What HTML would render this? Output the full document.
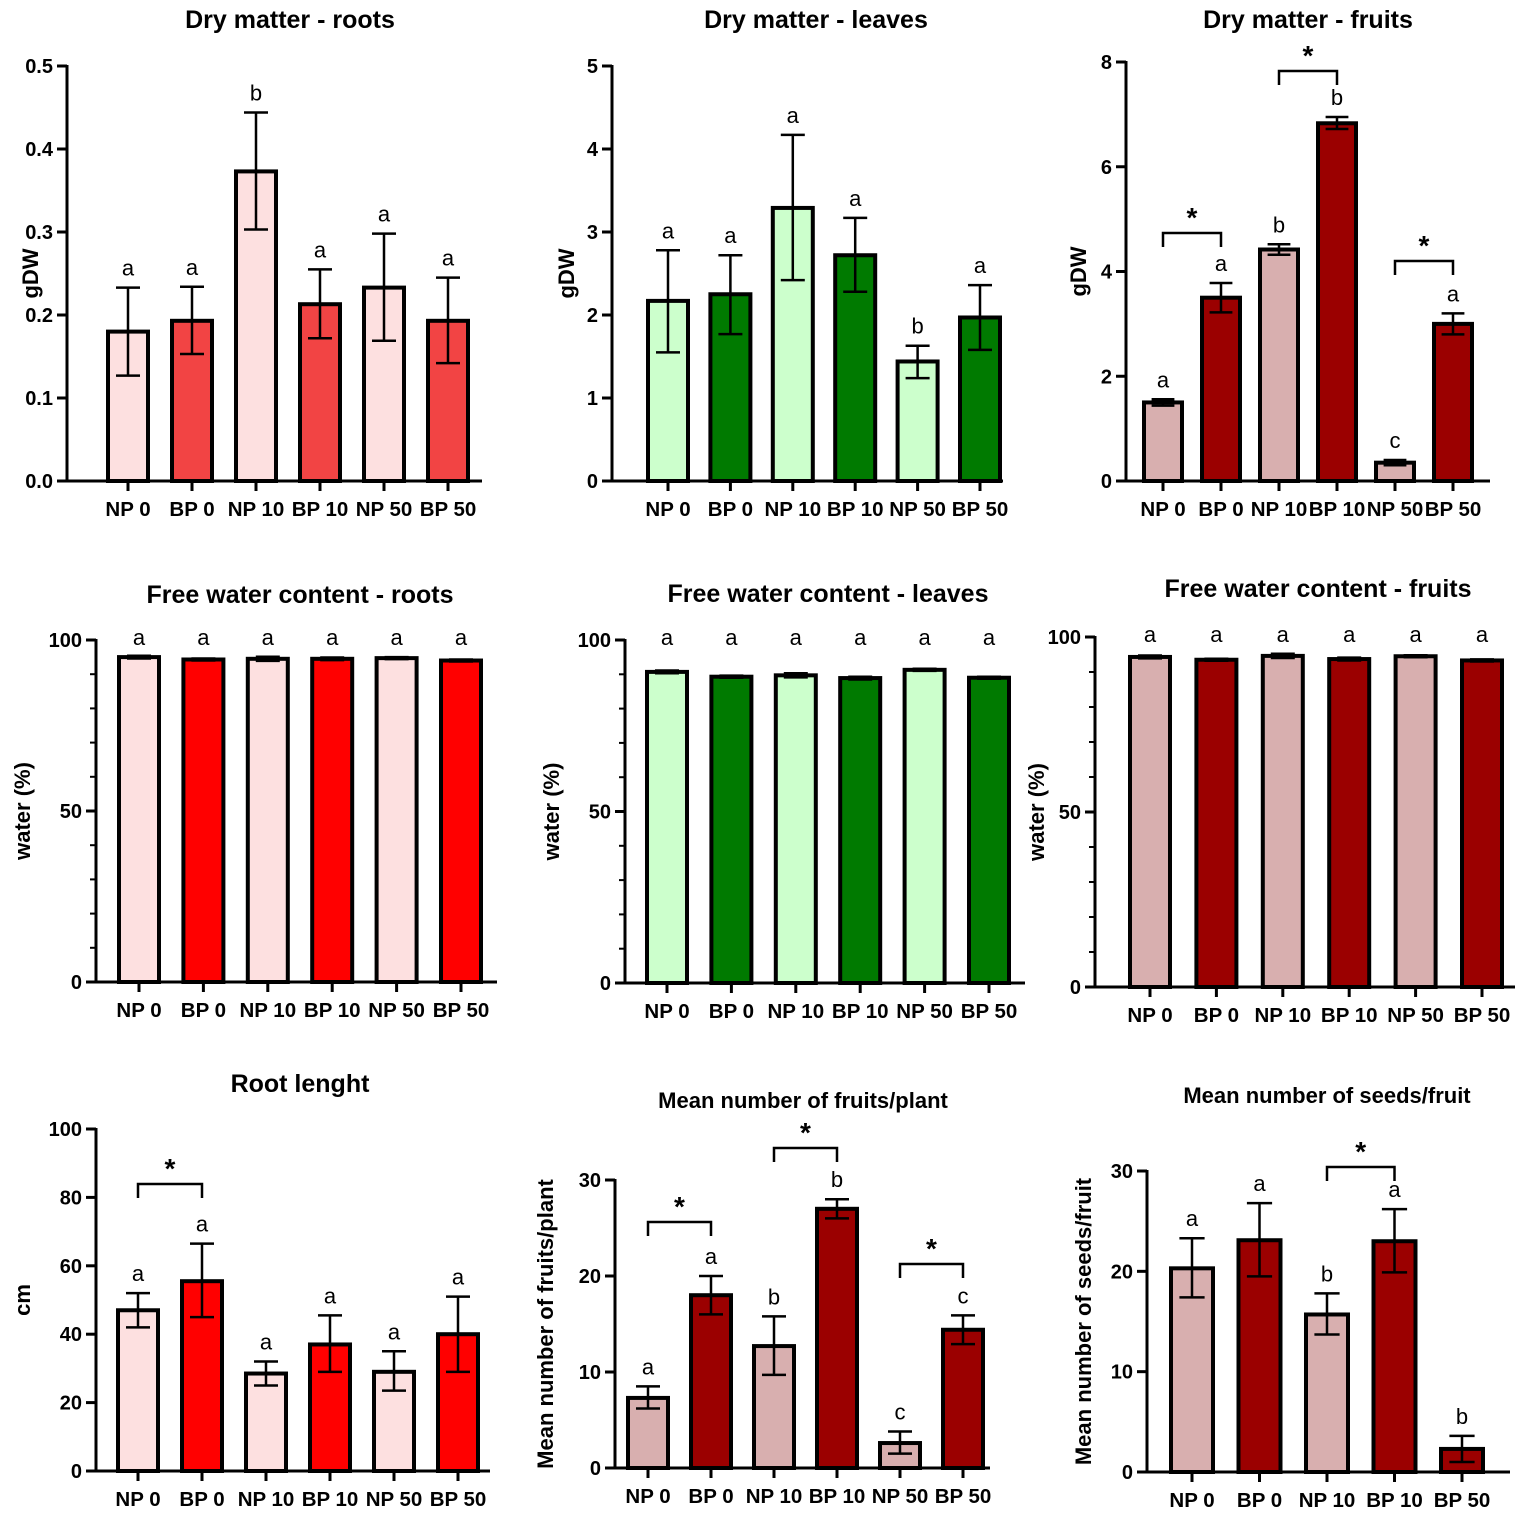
<!DOCTYPE html>
<html><head><meta charset="utf-8"><style>
body{margin:0;background:#fff}
svg{display:block;font-family:"Liberation Sans",Arial,sans-serif}
</style></head><body>
<svg id="fig" width="1535" height="1516" viewBox="0 0 1535 1516"></svg>
<script>
const categories6 = ["NP 0","BP 0","NP 10","BP 10","NP 50","BP 50"];
const categories5 = ["NP 0","BP 0","NP 10","BP 10","BP 50"];
const p1Values=[0.18,0.193,0.373,0.213,0.233,0.193];
const p1Low=[0.127,0.153,0.303,0.172,0.169,0.142];
const p1High=[0.233,0.234,0.444,0.255,0.298,0.245];
const p1Letters=["a","a","b","a","a","a"];
const p1Ticks=["0.0","0.1","0.2","0.3","0.4","0.5"];
const p2Values=[2.17,2.25,3.29,2.72,1.44,1.97];
const p2Low=[1.55,1.77,2.42,2.28,1.24,1.58];
const p2High=[2.78,2.72,4.17,3.17,1.63,2.36];
const p2Letters=["a","a","a","a","b","a"];
const p2Ticks=["0","1","2","3","4","5"];
const p3Values=[1.5,3.5,4.42,6.83,0.35,3.0];
const p3Low=[1.44,3.22,4.32,6.72,0.3,2.8];
const p3High=[1.56,3.78,4.52,6.95,0.4,3.2];
const p3Letters=["a","a","b","b","c","a"];
const p3Ticks=["0","2","4","6","8"];
const p4Values=[95,94.3,94.5,94.5,94.7,94];
const p5Values=[90.7,89.3,89.7,88.9,91.3,89];
const p6Values=[94.3,93.5,94.6,93.7,94.5,93.3];
const waterErr=[0.4,0.3,0.6,0.4,0.3,0.3];
const waterLetters=["a","a","a","a","a","a"];
const waterTicks=["0","50","100"];
const p7Values=[47,55.5,28.5,37,29,40];
const p7Low=[42,45,25,29,23.5,29];
const p7High=[52,66.5,32,45.5,35,51];
const p7Letters=["a","a","a","a","a","a"];
const p7Ticks=["0","20","40","60","80","100"];
const p8Values=[7.3,18,12.7,27,2.6,14.4];
const p8Low=[6.2,16,9.7,26,1.5,12.9];
const p8High=[8.5,20,15.8,28,3.8,15.9];
const p8Letters=["a","a","b","b","c","c"];
const p8Ticks=["0","10","20","30"];
const p9Values=[20.3,23.1,15.7,23,2.3];
const p9Low=[17.4,19.5,13.7,19.9,1.0];
const p9High=[23.3,26.8,17.8,26.2,3.6];
const p9Letters=["a","a","b","a","b"];
const p9Ticks=["0","10","20","30"];

const NS="http://www.w3.org/2000/svg";
const svg=document.getElementById('fig');
function mk(tag,attrs,parent,text){const e=document.createElementNS(NS,tag);for(const k in attrs)e.setAttribute(k,attrs[k]);if(text!==undefined)e.textContent=text;(parent||svg).appendChild(e);return e;}

function panel(o){
  const g=mk('g',{});
  
  
  const y=v=>o.y0-(v/o.max)*(o.y0-o.yt);
  const x=i=>o.c0+o.dx*i;
  const t=mk('text',{x:o.tx,y:o.ty,'text-anchor':'middle','font-size':o.tfs||25,'font-weight':'bold'},g,o.title);
  
  
  const yl=mk('text',{x:0,y:0,transform:`translate(${o.ylx},${(o.y0+o.yt)/2}) rotate(-90)`,'text-anchor':'middle','font-size':o.ylfs||22,'font-weight':'bold'},g,o.ylabel);
  
  
  mk('line',{x1:o.ax,y1:o.yt-1,x2:o.ax,y2:o.y0,stroke:'#000','stroke-width':3},g);
  mk('line',{x1:o.ax-10,y1:o.y0,x2:o.end,y2:o.y0,stroke:'#000','stroke-width':3},g);
  o.ticks.forEach(tk=>{const v=parseFloat(tk),py=y(v);
    mk('line',{x1:o.ax-10,y1:py,x2:o.ax,y2:py,stroke:'#000','stroke-width':3},g);
    const tl=mk('text',{x:o.ax-14,y:py+7,'text-anchor':'end','font-size':20,'font-weight':'bold'},g,tk);
    
    
  });
  if(o.minor){for(let v=o.minor;v<o.max;v+=o.minor){const py=y(v);mk('line',{x1:o.ax-6,y1:py,x2:o.ax,y2:py,stroke:'#000','stroke-width':2},g);}}
  o.cats.forEach((c,i)=>{
    const cx=x(i);
    mk('line',{x1:cx,y1:o.y0,x2:cx,y2:o.y0+10,stroke:'#000','stroke-width':3},g);
    const xl=mk('text',{x:cx,y:o.y0+35,'text-anchor':'middle','font-size':20.5,'font-weight':'bold'},g,c);
    
    
    const v=o.vals[i],top=y(v);
    const b=mk('rect',{x:cx-o.w/2,y:top,width:o.w,height:o.y0-top,fill:c.startsWith('NP')?o.c1:o.c2,stroke:'#000','stroke-width':4},g);
    
    
    const lo=y(o.lo[i]),hi=y(o.hi[i]),cw=o.w*0.3;
    const eb=mk('path',{d:`M${cx},${lo}V${hi}M${cx-cw},${hi}H${cx+cw}M${cx-cw},${lo}H${cx+cw}`,stroke:'#000','stroke-width':2.5,fill:'none'},g);
    
    
    const lt=mk('text',{x:cx,y:Math.min(hi,top)-12,'text-anchor':'middle','font-size':22},g,o.letters[i]);
    if(o.letterY)lt.setAttribute('y',o.letterY);
    
    
  });
  (o.brackets||[]).forEach(br=>{
    const xa=x(br[0]),xb=x(br[1]),by=br[2];
    const p=mk('path',{d:`M${xa},${by+14}V${by}H${xb}V${by+14}`,stroke:'#000','stroke-width':2.5,fill:'none'},g);
    
    
    const s=mk('text',{x:(xa+xb)/2,y:by-6,'text-anchor':'middle','font-size':28,'font-weight':'bold'},g,'*');
    
    
  });
}
const err=(v)=>v.map((a,i)=>a-waterErr[i]);
const errH=(v)=>v.map((a,i)=>a+waterErr[i]);
panel({name:'dry-matter-roots',title:'Dry matter - roots',tx:290,ty:28,ylabel:'gDW',ylx:38,ax:67,y0:481,yt:66,max:0.5,ticks:p1Ticks,c0:128,dx:64,w:40,end:482,cats:categories6,vals:p1Values,lo:p1Low,hi:p1High,letters:p1Letters,c1:'#fde0e0',c2:'#f24444'});
panel({name:'dry-matter-leaves',title:'Dry matter - leaves',tx:816,ty:28,ylabel:'gDW',ylx:574,ax:612,y0:481,yt:66,max:5,ticks:p2Ticks,c0:668,dx:62.4,w:40,end:1003,cats:categories6,vals:p2Values,lo:p2Low,hi:p2High,letters:p2Letters,c1:'#ccffcc',c2:'#007a00'});
panel({name:'dry-matter-fruits',title:'Dry matter - fruits',tx:1308,ty:28,ylabel:'gDW',ylx:1086,ax:1126,y0:481,yt:62,max:8,ticks:p3Ticks,c0:1163,dx:58,w:38,end:1490,cats:categories6,vals:p3Values,lo:p3Low,hi:p3High,letters:p3Letters,c1:'#d8afaf',c2:'#9b0000',brackets:[[0,1,233],[2,3,71],[4,5,261]]});
panel({name:'free-water-roots',title:'Free water content - roots',tx:300,ty:603,ylabel:'water (%)',ylx:30,ax:96,y0:982,yt:640,max:100,minor:10,ticks:waterTicks,c0:139,dx:64.4,w:40,end:497,cats:categories6,vals:p4Values,lo:err(p4Values),hi:errH(p4Values),letters:waterLetters,letterY:645,c1:'#fde0e0',c2:'#ff0000'});
panel({name:'free-water-leaves',title:'Free water content - leaves',tx:828,ty:602,ylabel:'water (%)',ylx:559,ax:625,y0:983,yt:640,max:100,minor:10,ticks:waterTicks,c0:667,dx:64.4,w:40,end:1025,cats:categories6,vals:p5Values,lo:err(p5Values),hi:errH(p5Values),letters:waterLetters,letterY:645,c1:'#ccffcc',c2:'#007a00'});
panel({name:'free-water-fruits',title:'Free water content - fruits',tx:1318,ty:597,ylabel:'water (%)',ylx:1044,ax:1095,y0:987,yt:637,max:100,minor:10,ticks:waterTicks,c0:1150,dx:66.4,w:40,end:1515,cats:categories6,vals:p6Values,lo:err(p6Values),hi:errH(p6Values),letters:waterLetters,letterY:642,c1:'#d8afaf',c2:'#9b0000'});
panel({name:'root-length',title:'Root lenght',tx:300,ty:1092,ylabel:'cm',ylx:30,ax:96,y0:1471,yt:1129,max:100,ticks:p7Ticks,c0:138,dx:64,w:40,end:490,cats:categories6,vals:p7Values,lo:p7Low,hi:p7High,letters:p7Letters,c1:'#fde0e0',c2:'#ff0000',brackets:[[0,1,1184]]});
panel({name:'fruits-per-plant',title:'Mean number of fruits/plant',tx:803,ty:1108,tfs:22,ylabel:'Mean number of fruits/plant',ylx:553,ax:615,y0:1468,yt:1180,max:30,ticks:p8Ticks,c0:648,dx:63,w:40,end:990,cats:categories6,vals:p8Values,lo:p8Low,hi:p8High,letters:p8Letters,c1:'#d8afaf',c2:'#9b0000',brackets:[[0,1,1222],[2,3,1148],[4,5,1264]]});
panel({name:'seeds-per-fruit',title:'Mean number of seeds/fruit',tx:1327,ty:1103,tfs:22,ylabel:'Mean number of seeds/fruit',ylx:1091,ax:1147,y0:1472,yt:1171,max:30,ticks:p9Ticks,c0:1192,dx:67.5,w:42,end:1510,cats:categories5,vals:p9Values,lo:p9Low,hi:p9High,letters:p9Letters,c1:'#d8afaf',c2:'#9b0000',brackets:[[2,3,1167]]});
</script>
</body></html>
